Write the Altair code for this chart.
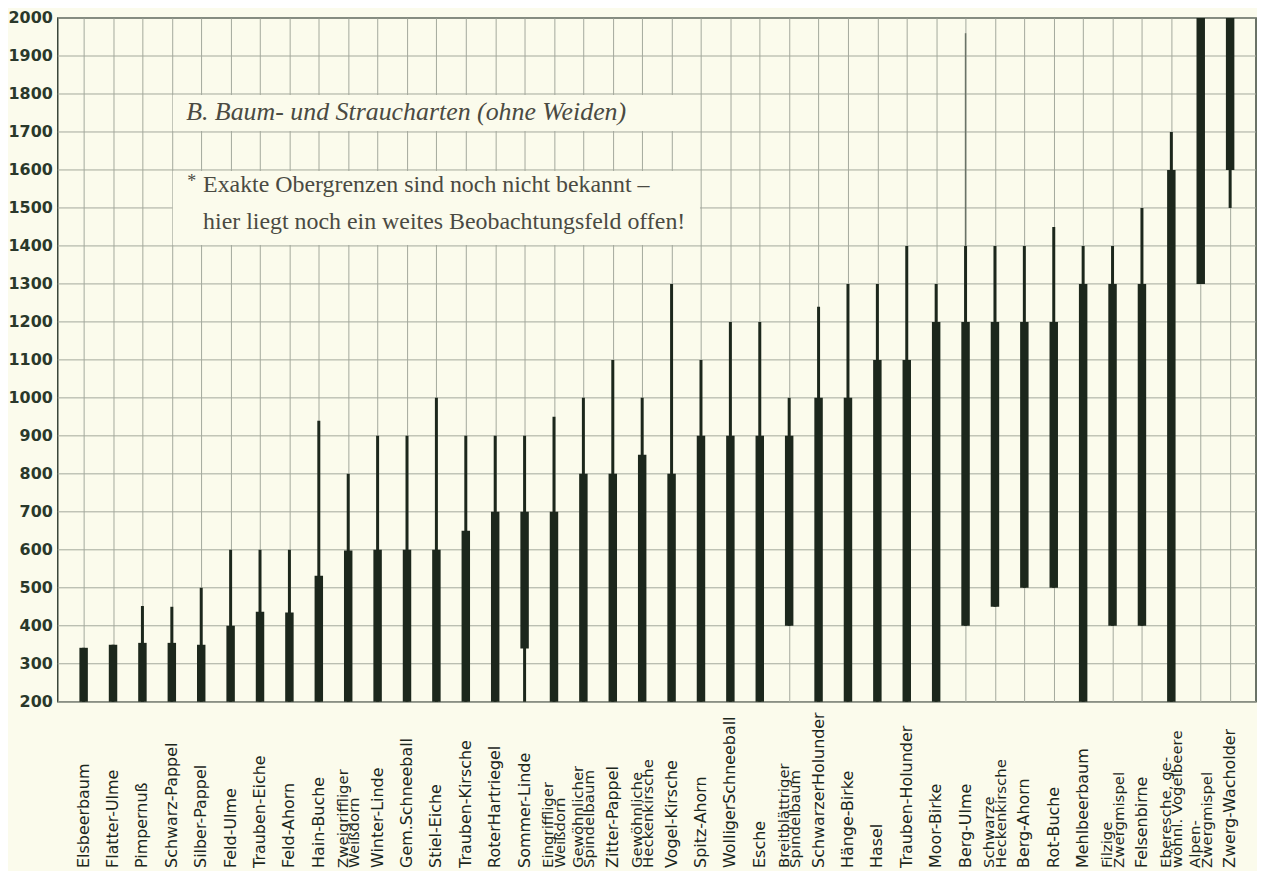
import altair as alt
import pandas as pd

categories = [
    "Elsbeerbaum", "Flatter-Ulme", "Pimpernuß", "Schwarz-Pappel", "Silber-Pappel",
    "Feld-Ulme", "Trauben-Eiche", "Feld-Ahorn", "Hain-Buche", "Zweigriffliger Weißdorn",
    "Winter-Linde", "Gem. Schneeball", "Stiel-Eiche", "Trauben-Kirsche", "Roter Hartriegel",
    "Sommer-Linde", "Eingriffliger Weißdorn", "Gewöhnlicher Spindelbaum", "Zitter-Pappel",
    "Gewöhnliche Heckenkirsche", "Vogel-Kirsche", "Spitz-Ahorn", "Wolliger Schneeball",
    "Esche", "Breitblättriger Spindelbaum", "Schwarzer Holunder", "Hänge-Birke", "Hasel",
    "Trauben-Holunder", "Moor-Birke", "Berg-Ulme", "Schwarze Heckenkirsche", "Berg-Ahorn",
    "Rot-Buche", "Mehlbeerbaum", "Filzige Zwergmispel", "Felsenbirne",
    "Eberesche, gewöhnl. Vogelbeere", "Alpen-Zwergmispel", "Zwerg-Wacholder",
]
labels = [
    "Elsbeerbaum", "Flatter-Ulme", "Pimpernuß", "Schwarz-Pappel", "Silber-Pappel",
    "Feld-Ulme", "Trauben-Eiche", "Feld-Ahorn", "Hain-Buche", "Zweigriffliger|Weißdorn",
    "Winter-Linde", "Gem.Schneeball", "Stiel-Eiche", "Trauben-Kirsche", "RoterHartriegel",
    "Sommer-Linde", "Eingriffliger|Weißdorn", "Gewöhnlicher|Spindelbaum", "Zitter-Pappel",
    "Gewöhnliche|Heckenkirsche", "Vogel-Kirsche", "Spitz-Ahorn", "WolligerSchneeball",
    "Esche", "Breitblättriger|Spindelbaum", "SchwarzerHolunder", "Hänge-Birke", "Hasel",
    "Trauben-Holunder", "Moor-Birke", "Berg-Ulme", "Schwarze|Heckenkirsche", "Berg-Ahorn",
    "Rot-Buche", "Mehlbeerbaum", "Filzige|Zwergmispel", "Felsenbirne",
    "Eberesche, ge-|wöhnl. Vogelbeere", "Alpen-|Zwergmispel", "Zwerg-Wacholder",
]
# main (thick) range
thick_lo = [200, 200, 200, 200, 200, 200, 200, 200, 200, 200,
            200, 200, 200, 200, 200, 340, 200, 200, 200, 200,
            200, 200, 200, 200, 400, 200, 200, 200, 200, 200,
            400, 450, 500, 500, 200, 400, 400, 200, 1300, 1600]
thick_hi = [342, 350, 355, 355, 350, 400, 437, 435, 532, 598,
            600, 600, 600, 650, 700, 700, 700, 800, 800, 850,
            800, 900, 900, 900, 900, 1000, 1000, 1100, 1100, 1200,
            1200, 1200, 1200, 1200, 1300, 1300, 1300, 1600, 2000, 2000]
# full (thin) range
thin_lo = [200, 200, 200, 200, 200, 200, 200, 200, 200, 200,
           200, 200, 200, 200, 200, 200, 200, 200, 200, 200,
           200, 200, 200, 200, 400, 200, 200, 200, 200, 200,
           400, 450, 500, 500, 200, 400, 400, 200, 1300, 1500]
thin_hi = [342, 350, 452, 450, 500, 600, 600, 600, 940, 800,
           900, 900, 1000, 900, 900, 900, 950, 1000, 1100, 1000,
           1300, 1100, 1200, 1200, 1000, 1240, 1300, 1300, 1400, 1300,
           1400, 1400, 1400, 1450, 1400, 1400, 1500, 1700, 2000, 2000]
faint_cat = ["Berg-Ulme"]
faint_lo = [1400]
faint_hi = [1960]

y_ticks = list(range(200, 2001, 100))
title_text = "B.  Baum- und Straucharten (ohne Weiden)"
note_star = "*"
note_lines = ["Exakte Obergrenzen sind noch nicht bekannt –",
              "hier liegt noch ein weites Beobachtungsfeld offen!"]
note_y = [1560, 1462]
title_y = [1752]
box_x1 = ["Schwarz-Pappel", "Schwarz-Pappel"]
box_x2 = ["Spitz-Ahorn", "Spitz-Ahorn"]
box_y1 = [1700, 1400]
box_y2 = [1800, 1600]

W, H = 1204, 687
BG = "#fbfbec"
DARK = "#1c271c"
GRID = "#a3a89c"
TXT = "#4a4a42"

df = pd.DataFrame({
    "cat": categories, "label": labels,
    "thick_lo": thick_lo, "thick_hi": thick_hi,
    "thin_lo": thin_lo, "thin_hi": thin_hi,
})
df["nlines"] = df["label"].str.count(r"\|") + 1
ticks_df = pd.DataFrame({"v": y_ticks})
ticks_df["lab"] = ticks_df["v"].astype(str)

xscale = alt.Scale(type="point", domain=categories, padding=0.88)
yscale = alt.Scale(domain=[200, 2000], nice=False, zero=False)

x_axis = alt.Axis(labels=False, ticks=False, domain=False, grid=True, title=None,
                  gridColor=GRID, gridWidth=1)


def X(field):
    return alt.X(field, scale=xscale, axis=x_axis)


def Y(field):
    return alt.Y(field, scale=yscale, axis=None)


base = alt.Chart(df)

# horizontal grid and y tick labels, drawn from the tick list through the y scale
hgrid = alt.Chart(ticks_df).mark_rule(color=GRID, strokeWidth=1).encode(
    y=Y("v:Q"), x=alt.value(0), x2=alt.value(W))
ylabels = alt.Chart(ticks_df).mark_text(
    font="DejaVu Sans", fontWeight="bold", fontSize=16, color="#2a382a",
    align="right", baseline="middle").encode(
    y=Y("v:Q"), x=alt.value(-5), text="lab:N")

thin = base.mark_rule(strokeWidth=3, color=DARK).encode(
    x=X("cat:N"), y=Y("thin_lo:Q"), y2="thin_hi:Q")
thick = base.mark_rule(strokeWidth=8.5, color=DARK).encode(
    x=X("cat:N"), y=Y("thick_lo:Q"), y2="thick_hi:Q")
faint = alt.Chart(pd.DataFrame({"cat": faint_cat, "lo": faint_lo, "hi": faint_hi})).mark_rule(
    strokeWidth=1.5, color="#6a7367").encode(
    x=X("cat:N"), y=Y("lo:Q"), y2="hi:Q")

boxes = alt.Chart(pd.DataFrame({"x1": box_x1, "x2": box_x2, "y1": box_y1, "y2": box_y2})).mark_rect(
    color=BG, xOffset=1, x2Offset=-1, yOffset=-1, y2Offset=1).encode(
    x=X("x1:N"), x2="x2:N", y=Y("y1:Q"), y2="y2:Q")

title_mark = alt.Chart(pd.DataFrame({"t": [title_text], "y": title_y})).mark_text(
    font="Liberation Serif", fontStyle="italic", fontSize=26, color=TXT,
    align="left", baseline="middle").encode(
    x=alt.value(129), y=Y("y:Q"), text="t:N")

note_mark = alt.Chart(pd.DataFrame({"t": note_lines, "y": note_y})).mark_text(
    font="Liberation Serif", fontSize=24, color=TXT,
    align="left", baseline="middle").encode(
    x=alt.value(146), y=Y("y:Q"), text="t:N")

star_mark = alt.Chart(pd.DataFrame({"t": [note_star], "y": [note_y[0]]})).mark_text(
    font="Liberation Serif", fontSize=18, color=TXT,
    align="left", baseline="middle", dy=-3).encode(
    x=alt.value(130), y=Y("y:Q"), text="t:N")

lab1 = base.transform_filter("datum.nlines == 1").mark_text(
    font="DejaVu Sans", fontSize=16, color=DARK, angle=270, align="left",
    baseline="middle").encode(
    x=X("cat:N"), y=alt.value(854), text="label:N")

lab2 = base.transform_filter("datum.nlines == 2").mark_text(
    font="DejaVu Sans", fontSize=15, color=DARK, angle=270, align="left",
    baseline="middle", lineBreak="|", lineHeight=11.5, dy=-5.5).encode(
    x=X("cat:N"), y=alt.value(854), text="label:N")

chart = alt.layer(hgrid, ylabels, thin, thick, faint, boxes, title_mark, note_mark,
                  star_mark, lab1, lab2).properties(
    width=W, height=H,
    padding={"left": 0, "top": 0, "right": 0, "bottom": 0},
).configure(background=BG).configure_view(stroke="#3a453a", strokeWidth=1.5)

chart.save("out.html", embed_options={"renderer": "svg", "actions": False})
